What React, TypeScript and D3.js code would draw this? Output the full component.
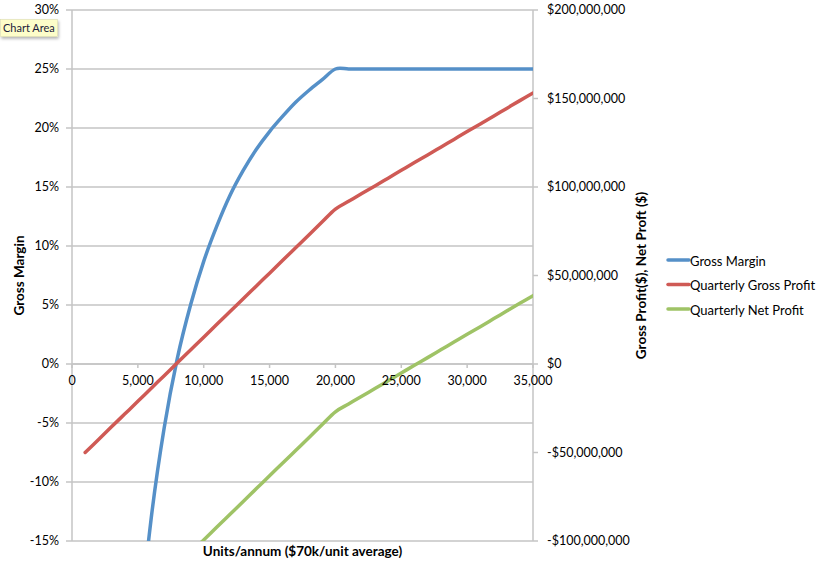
import React from "react";
import * as d3 from "d3";

const units = [1000, 2000, 3000, 4000, 5000, 6000, 7000, 8000, 9000, 10000, 11000, 12000, 13000, 14000, 15000, 16000, 17000, 18000, 19000, 20000, 21000, 22000, 23000, 24000, 25000, 26000, 27000, 28000, 29000, 30000, 31000, 32000, 33000, 34000, 35000];
const grossMargin = [-2.857, -1.222, -0.677, -0.404, -0.241, -0.132, -0.054, 0.005, 0.05, 0.087, 0.117, 0.143, 0.164, 0.182, 0.197, 0.21, 0.222, 0.232, 0.241, 0.25, 0.25, 0.25, 0.25, 0.25, 0.25, 0.25, 0.25, 0.25, 0.25, 0.25, 0.25, 0.25, 0.25, 0.25, 0.25];
// millions of dollars
const quarterlyGrossProfit = [-50.0, -42.8, -35.5, -28.3, -21.1, -13.8, -6.6, 0.7, 7.9, 15.1, 22.4, 29.6, 36.8, 44.1, 51.3, 58.6, 65.8, 73.0, 80.3, 87.5, 91.9, 96.3, 100.6, 105.0, 109.4, 113.8, 118.1, 122.5, 126.9, 131.3, 135.6, 140.0, 144.4, 148.8, 153.1];
const quarterlyNetProfit = [-164.5, -157.3, -150.0, -142.8, -135.6, -128.3, -121.1, -113.8, -106.6, -99.4, -92.1, -84.9, -77.7, -70.4, -63.2, -55.9, -48.7, -41.5, -34.2, -27.0, -22.6, -18.2, -13.9, -9.5, -5.1, -0.7, 3.6, 8.0, 12.4, 16.8, 21.1, 25.5, 29.9, 34.3, 38.6];

const xTicks = [0, 5000, 10000, 15000, 20000, 25000, 30000, 35000];
const leftTicks = [-0.15, -0.1, -0.05, 0, 0.05, 0.1, 0.15, 0.2, 0.25, 0.3];
const rightTicks = [-100, -50, 0, 50, 100, 150, 200];

const seriesNames = ["Gross Margin", "Quarterly Gross Profit", "Quarterly Net Profit"];
const seriesColors = ["#5590c8", "#cf5a55", "#9fc366"];

const W = 823;
const H = 568;
const L = 72, R = 533, T = 10, B = 541;
const FONT = "Lato, 'Open Sans', sans-serif";

export default function App() {
  const x = d3.scaleLinear().domain([0, 35000]).range([L, R]);
  const yL = d3.scaleLinear().domain([-0.15, 0.3]).range([B, T]);
  const yR = d3.scaleLinear().domain([-100, 200]).range([B, T]);

  const fmtX = d3.format(",");
  const fmtPct = (v: number) => `${Math.round(v * 100)}%`;
  const fmtDollar = (v: number) => {
    const s = d3.format(",")(Math.abs(v) * 1e6);
    return (v < 0 ? "-$" : "$") + s;
  };

  const curve = d3.curveCardinal.tension(0);
  const lineL = d3.line<number>().x((_, i) => x(units[i])).y((d) => yL(d)).curve(curve);
  const lineR = d3.line<number>().x((_, i) => x(units[i])).y((d) => yR(d)).curve(curve);

  const grid = "#c4c4c4";
  const tickFs = 12.5;

  return (
    <svg width={W} height={H} style={{ position: "absolute", left: 0, top: 0, background: "#fff" }} fontFamily={FONT}>
      <defs>
        <clipPath id="plot">
          <rect x={L} y={T} width={R - L} height={B - T} />
        </clipPath>
        <filter id="sh" x="-20%" y="-20%" width="150%" height="180%">
          <feDropShadow dx="1" dy="2" stdDeviation="1.5" floodColor="#000" floodOpacity="0.3" />
        </filter>
      </defs>
      <rect x={0} y={0} width={W} height={H} fill="#fff" />
      {leftTicks.map((t) => (
        <g key={"g" + t}>
          <line x1={L - 6} x2={R} y1={yL(t)} y2={yL(t)} stroke={grid} strokeWidth={1.5} />
          <text x={59} y={yL(t)} dy="0.35em" textAnchor="end" fontSize={tickFs} fill="#000">
            {fmtPct(t)}
          </text>
        </g>
      ))}
      <line x1={L} x2={L} y1={T} y2={B} stroke={grid} strokeWidth={1.5} />
      <line x1={R} x2={R} y1={T} y2={B} stroke={grid} strokeWidth={1.5} />
      <line x1={L} x2={R} y1={yL(0)} y2={yL(0)} stroke={grid} strokeWidth={1.5} />
      {rightTicks.map((t) => (
        <g key={"r" + t}>
          <line x1={R} x2={R + 5} y1={yR(t)} y2={yR(t)} stroke={grid} strokeWidth={1.5} />
          <text x={547} y={yR(t)} dy="0.35em" textAnchor="start" fontSize={tickFs} fill="#000">
            {fmtDollar(t)}
          </text>
        </g>
      ))}
      {xTicks.map((t) => (
        <line key={"xt" + t} x1={x(t)} x2={x(t)} y1={yL(0)} y2={yL(0) + 4} stroke={grid} strokeWidth={1.5} />
      ))}
      <g clipPath="url(#plot)" fill="none" strokeLinecap="round" strokeLinejoin="round">
        <path d={lineL(grossMargin) || ""} stroke={seriesColors[0]} strokeWidth={3.5} />
        <path d={lineR(quarterlyGrossProfit) || ""} stroke={seriesColors[1]} strokeWidth={3.5} />
        <path d={lineR(quarterlyNetProfit) || ""} stroke={seriesColors[2]} strokeWidth={3.5} />
      </g>
      {xTicks.map((t) => (
        <text key={"xl" + t} x={x(t)} y={381} dy="0.35em" textAnchor="middle" fontSize={tickFs} fill="#000">
          {fmtX(t)}
        </text>
      ))}
      <text transform={`translate(24,${(T + B) / 2}) rotate(-90)`} textAnchor="middle" fontSize={13.5} fontWeight="bold" fill="#000">
        Gross Margin
      </text>
      <text transform={`translate(646,${(T + B) / 2}) rotate(-90)`} textAnchor="middle" fontSize={13.5} fontWeight="bold" fill="#000">
        Gross Profit($), Net Proft ($)
      </text>
      <text x={(L + R) / 2} y={556} textAnchor="middle" fontSize={13.5} fontWeight="bold" fill="#000">
        Units/annum ($70k/unit average)
      </text>
      {seriesNames.map((n, i) => {
        const ly = 260 + i * 24.5;
        return (
          <g key={n}>
            <line x1={668} x2={689} y1={ly} y2={ly} stroke={seriesColors[i]} strokeWidth={3.5} strokeLinecap="round" />
            <text x={690} y={ly + 1} dy="0.35em" fontSize={13} fill="#000">
              {n}
            </text>
          </g>
        );
      })}
      <g filter="url(#sh)">
        <rect x={0.5} y={19.5} width={57} height={17} fill="#fdfdc9" stroke="#d8d8a8" strokeWidth={0.5} />
      </g>
      <text x={3} y={28} dy="0.35em" fontSize={11} fill="#1a1a3a">
        Chart Area
      </text>
    </svg>
  );
}
